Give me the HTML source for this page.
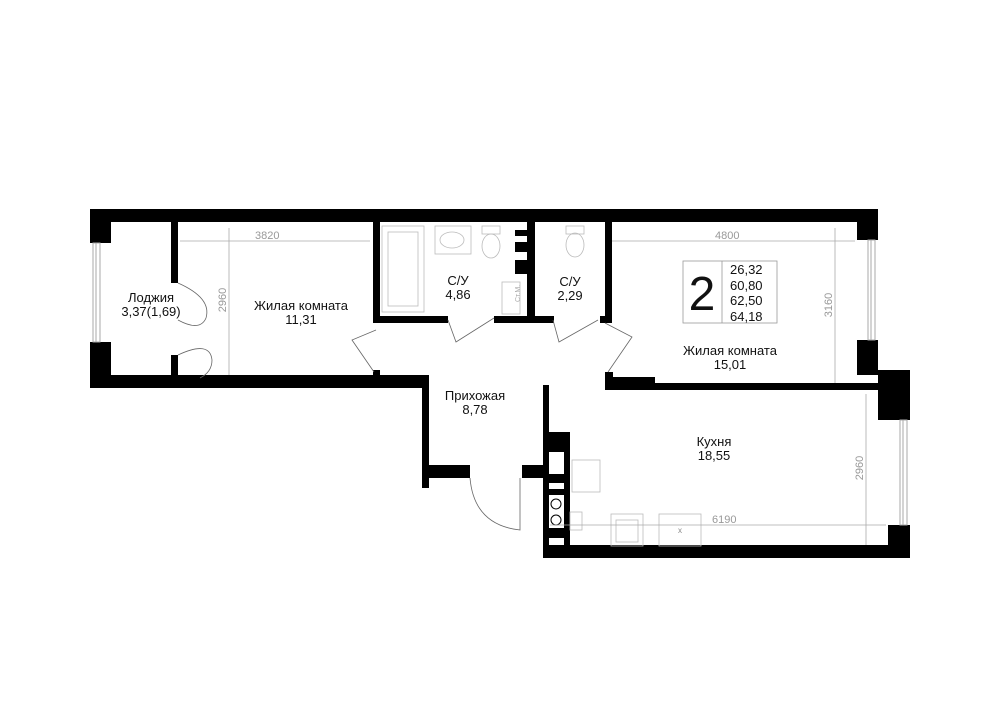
<!DOCTYPE html>
<html><head><meta charset="utf-8"><style>
html,body{margin:0;padding:0;background:#fff;width:1000px;height:707px;overflow:hidden}
svg{display:block}
text{font-family:"Liberation Sans",sans-serif;fill:#111}
.d{fill:#999;font-size:11px}
</style></head><body>
<svg width="1000" height="707" viewBox="0 0 1000 707">
<g fill="#000">
<!-- top wall -->
<rect x="90" y="209" width="788" height="13"/>
<!-- left loggia wall -->
<rect x="90" y="209" width="21" height="34"/>
<rect x="90" y="342" width="21" height="46"/>
<!-- bottom wall left -->
<rect x="90" y="375" width="338" height="13"/>
<!-- loggia partition -->
<rect x="171" y="222" width="7" height="61"/>
<rect x="171" y="355" width="7" height="22"/>
<!-- room1 right wall -->
<rect x="373" y="222" width="7" height="101"/>
<rect x="373" y="370" width="7" height="8"/>
<!-- bath bottom -->
<rect x="373" y="316" width="75" height="7"/>
<rect x="494" y="316" width="60" height="7"/>
<rect x="600" y="316" width="12" height="7"/>
<!-- bath partitions -->
<rect x="527" y="222" width="8" height="101"/>
<rect x="515" y="230" width="14" height="6"/>
<rect x="515" y="242" width="14" height="10"/>
<rect x="515" y="260" width="14" height="14"/>
<rect x="605" y="222" width="7" height="101"/>
<!-- hallway left -->
<rect x="422" y="375" width="7" height="113"/>
<rect x="426" y="465" width="44" height="13"/>
<rect x="522" y="465" width="23" height="13"/>
<!-- kitchen left -->
<rect x="543" y="385" width="6" height="173"/>
<rect x="545" y="432" width="25" height="118"/>
<!-- room2 bottom -->
<rect x="605" y="372" width="8" height="18"/>
<rect x="605" y="377" width="50" height="13"/>
<rect x="605" y="383" width="285" height="7"/>
<!-- right walls -->
<rect x="857" y="209" width="21" height="31"/>
<rect x="857" y="340" width="21" height="35"/>
<rect x="878" y="370" width="32" height="50"/>
<rect x="878" y="370" width="12" height="20"/>
<rect x="888" y="525" width="22" height="33"/>
<!-- kitchen bottom -->
<rect x="543" y="545" width="367" height="13"/>
</g>
<!-- cabinet details -->
<g fill="#fff">
<rect x="549" y="452" width="15" height="22"/>
<rect x="549" y="483" width="15" height="6"/>
<rect x="549" y="495" width="15" height="33"/>
<rect x="549" y="538" width="15" height="7"/>
</g>
<g fill="none" stroke="#000" stroke-width="1">
<circle cx="556" cy="504" r="5"/><circle cx="556" cy="520" r="5"/>
</g>
<!-- windows -->
<g fill="none" stroke="#aaa" stroke-width="1">
<rect x="93" y="243" width="7" height="99"/><line x1="96" y1="243" x2="96" y2="342"/>
<rect x="868" y="240" width="7" height="100"/><line x1="871" y1="240" x2="871" y2="340"/>
<rect x="900" y="420" width="7" height="105"/><line x1="903" y1="420" x2="903" y2="525"/>
</g>
<!-- doors -->
<g fill="none" stroke="#666" stroke-width="0.8">
<path d="M178 283 Q212 298 206 318 Q200 332 178 320"/>
<path d="M178 355 Q210 340 212 360 Q212 372 200 378"/>
<path d="M376 330 L352 340 L374 372"/>
<path d="M448 320 L456 342 L494 318"/>
<path d="M553 320 L559 342 L598 320"/>
<path d="M605 323 L632 337 L608 372"/>
<path d="M470 478 Q474 525 520 530 L520 478"/>
</g>
<!-- fixtures -->
<g fill="none" stroke="#bbb" stroke-width="0.8">
<rect x="382" y="226" width="42" height="86"/><rect x="388" y="232" width="30" height="74"/>
<rect x="435" y="226" width="36" height="28"/><ellipse cx="452" cy="240" rx="12" ry="8"/>
<ellipse cx="491" cy="246" rx="9" ry="12"/><rect x="482" y="226" width="18" height="8"/>
<ellipse cx="575" cy="245" rx="9" ry="12"/><rect x="566" y="226" width="18" height="8"/>
<rect x="502" y="282" width="18" height="32"/>
<rect x="572" y="460" width="28" height="32"/>
<rect x="611" y="514" width="32" height="32"/><rect x="616" y="520" width="22" height="22"/>
<rect x="659" y="514" width="42" height="32"/>
<rect x="570" y="512" width="12" height="18"/>
</g>
<text x="512" y="310" font-size="7" fill="#aaa" transform="rotate(-90 512 302)" style="fill:#aaa">Ст.М.</text>
<text x="678" y="533" font-size="8" style="fill:#888">x</text>
<!-- dimension lines -->
<g stroke="#aaa" stroke-width="0.8" fill="none">
<line x1="180" y1="241" x2="370" y2="241"/>
<line x1="229" y1="228" x2="229" y2="375"/>
<line x1="612" y1="241" x2="855" y2="241"/>
<line x1="835" y1="228" x2="835" y2="383"/>
<line x1="550" y1="525" x2="886" y2="525"/>
<line x1="866" y1="394" x2="866" y2="545"/>
</g>
<text class="d" x="255" y="239">3820</text>
<text class="d" x="715" y="239">4800</text>
<text class="d" x="712" y="523">6190</text>
<text class="d" x="0" y="0" transform="translate(226 300) rotate(-90)" text-anchor="middle">2960</text>
<text class="d" x="0" y="0" transform="translate(832 305) rotate(-90)" text-anchor="middle">3160</text>
<text class="d" x="0" y="0" transform="translate(863 468) rotate(-90)" text-anchor="middle">2960</text>
<!-- legend -->
<rect x="683" y="261" width="94" height="62" fill="none" stroke="#999" stroke-width="0.8"/>
<line x1="722" y1="261" x2="722" y2="323" stroke="#999" stroke-width="0.8"/>
<text x="702" y="310" font-size="48" text-anchor="middle">2</text>
<g font-size="13"><text x="730" y="274">26,32</text><text x="730" y="290">60,80</text><text x="730" y="305">62,50</text><text x="730" y="321">64,18</text></g>
<!-- labels -->
<g font-size="13" text-anchor="middle">
<text x="151" y="302">Лоджия</text><text x="151" y="316">3,37(1,69)</text>
<text x="301" y="310">Жилая комната</text><text x="301" y="324">11,31</text>
<text x="458" y="285">С/У</text><text x="458" y="299">4,86</text>
<text x="570" y="286">С/У</text><text x="570" y="300">2,29</text>
<text x="730" y="355">Жилая комната</text><text x="730" y="369">15,01</text>
<text x="475" y="400">Прихожая</text><text x="475" y="414">8,78</text>
<text x="714" y="446">Кухня</text><text x="714" y="460">18,55</text>
</g>
</svg>
</body></html>
